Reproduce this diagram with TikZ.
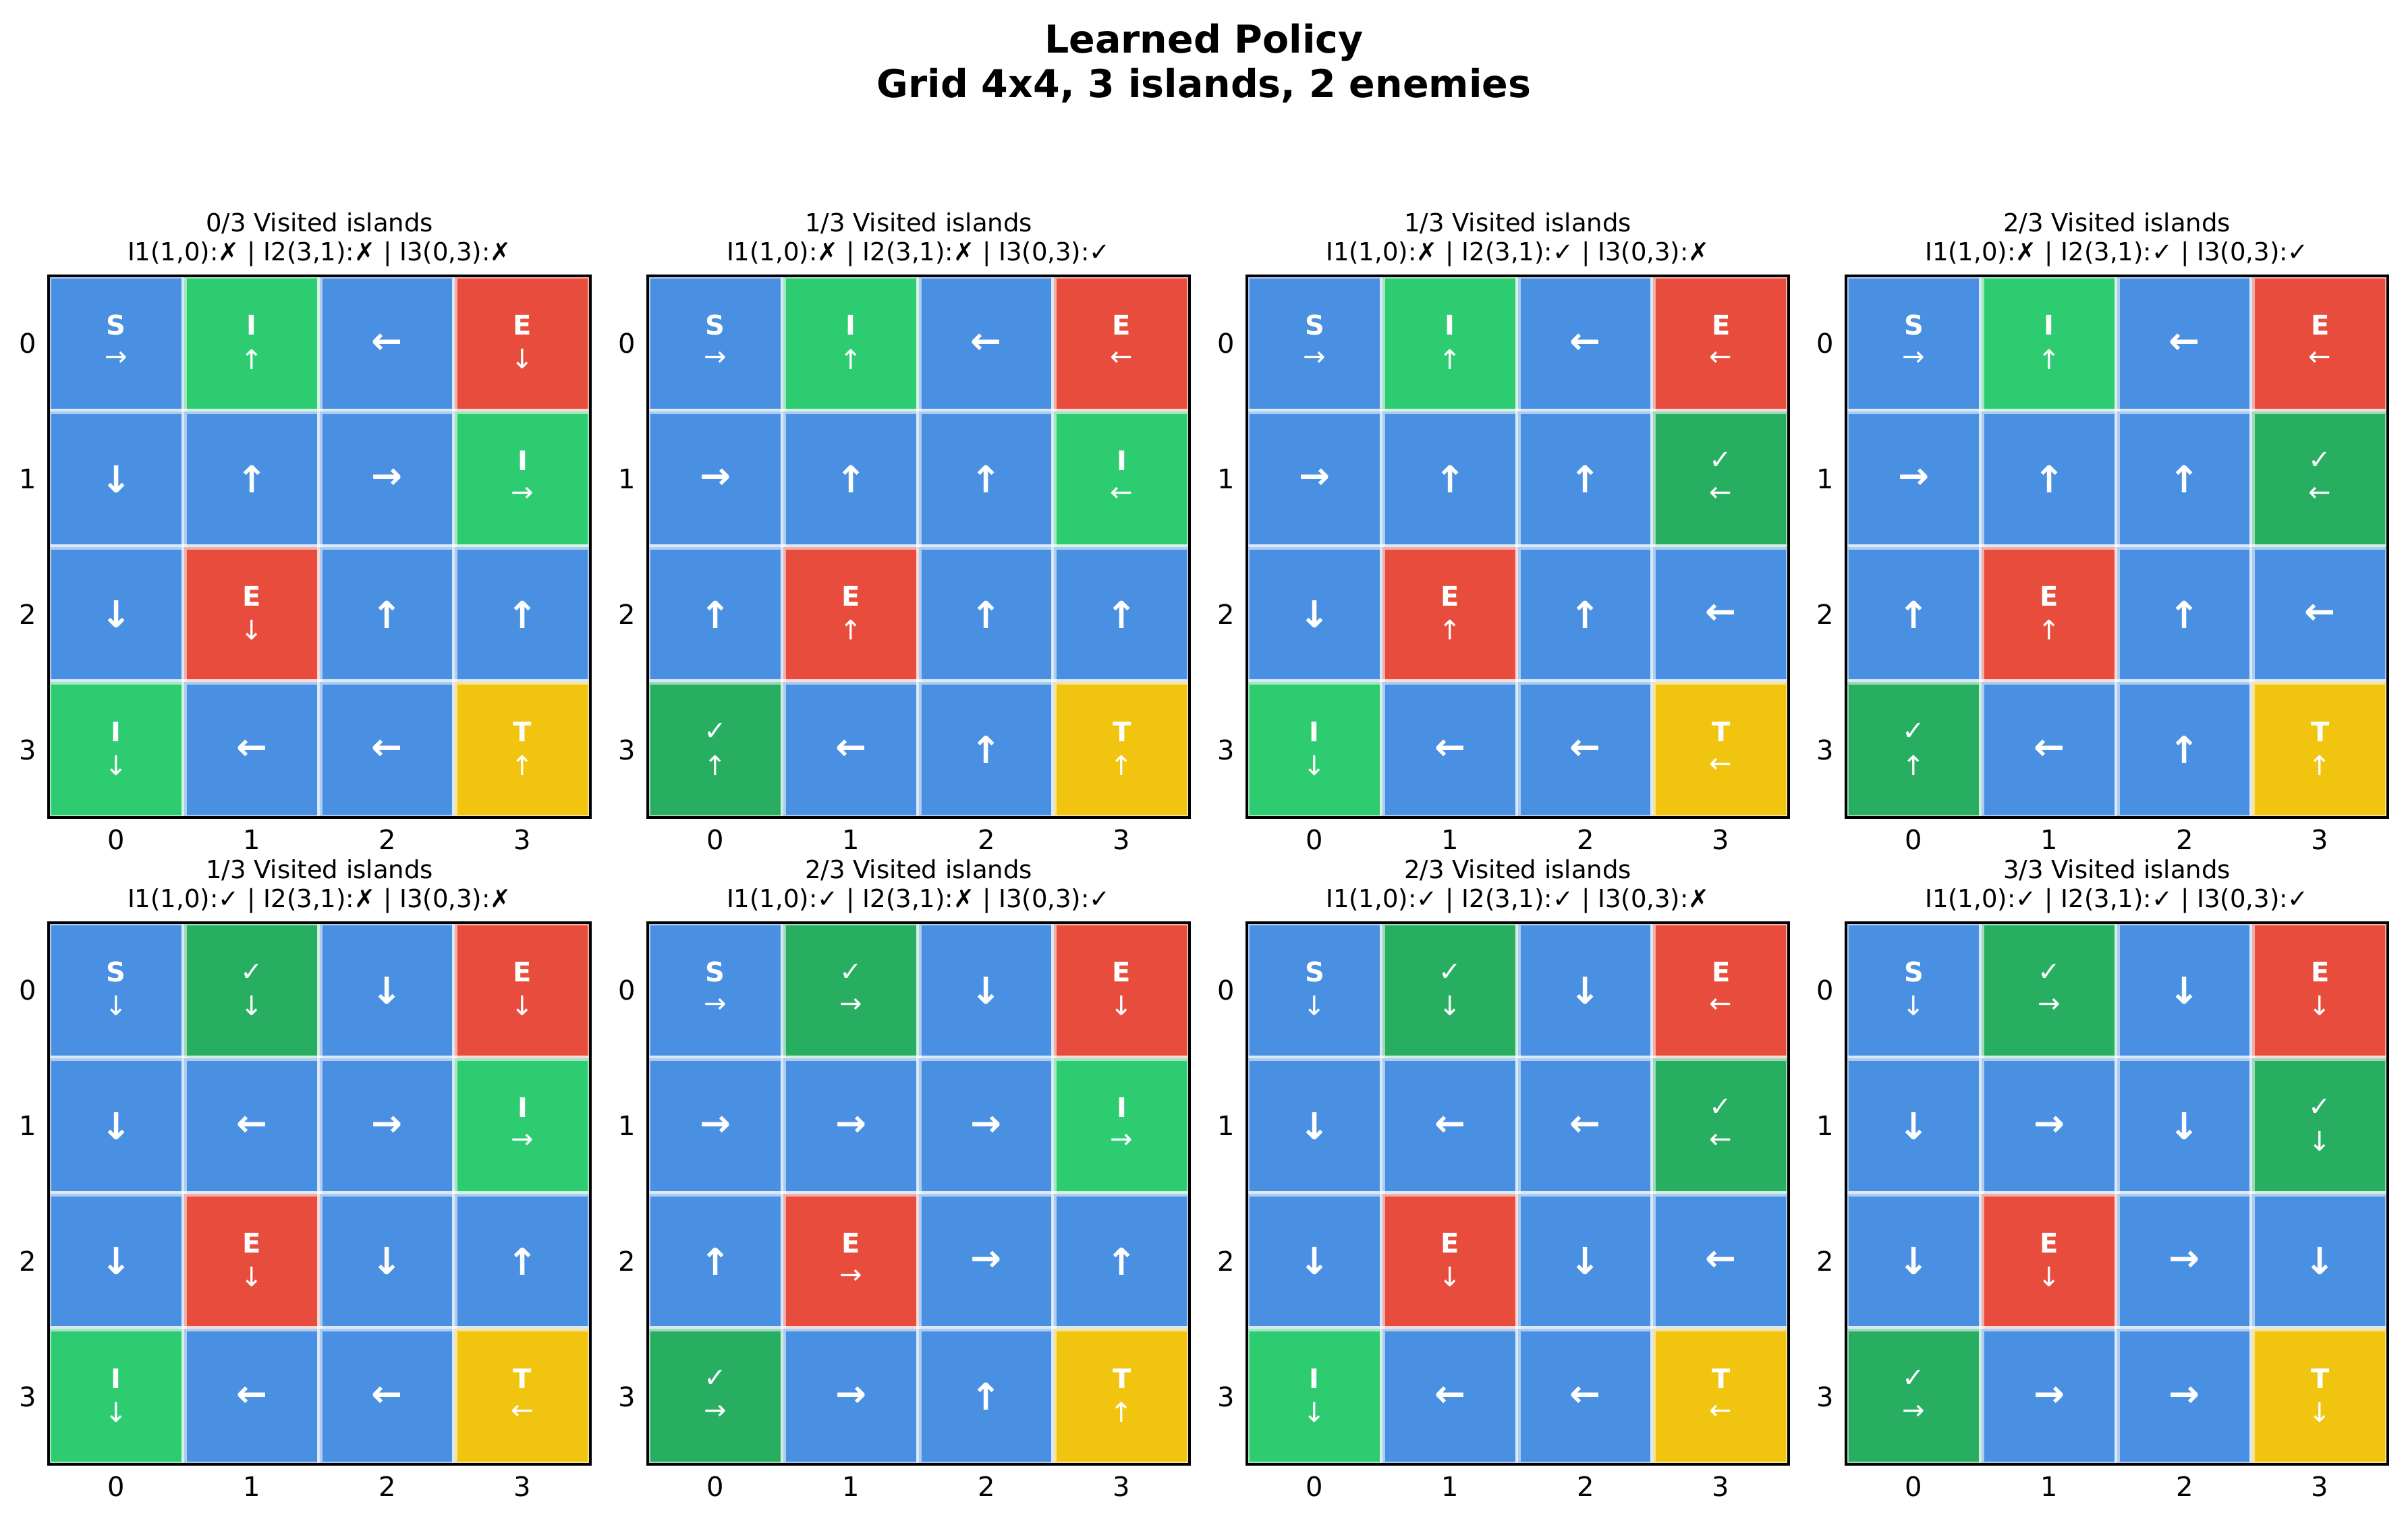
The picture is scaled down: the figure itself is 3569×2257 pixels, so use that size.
\documentclass[tikz,border=0pt]{standalone}
\usepackage{fontspec}
\setmainfont{DejaVu Sans}
\definecolor{cblue}{HTML}{4A90E2}
\definecolor{cgreen}{HTML}{2ECC71}
\definecolor{cdgreen}{HTML}{27AE60}
\definecolor{cred}{HTML}{E74C3C}
\definecolor{cyellow}{HTML}{F1C40F}
\def\ccolS{cblue}\def\clabS{\bfseries S}
\def\ccolI{cgreen}\def\clabI{\bfseries I}
\def\ccolE{cred}\def\clabE{\bfseries E}
\def\ccolT{cyellow}\def\clabT{\bfseries T}
\def\ccolV{cdgreen}\def\clabV{✓}
\def\ccolN{cblue}\def\clabN{}
\def\typeN{N}
\tikzset{
  titletxt/.style={font=\fontsize{11.4}{13.3}\selectfont\bfseries, inner sep=0pt, anchor=base},
  subtxt/.style={font=\fontsize{7.4}{8.9}\selectfont, inner sep=0pt, anchor=base},
  ticktxt/.style={font=\fontsize{8}{9.6}\selectfont, inner sep=0pt},
  bigarrow/.style={font=\fontsize{11}{13}\selectfont\bfseries, text=white, inner sep=0pt},
  smalllab/.style={font=\fontsize{8}{9.6}\selectfont, text=white, inner sep=0pt},
  smallarrow/.style={font=\fontsize{8}{9.6}\selectfont, text=white, inner sep=0pt},
  celledge/.style={draw=white, draw opacity=0.55, line width=1.6pt},
  axframe/.style={draw=black, line width=0.8pt},
}
\newcommand\drawpanel[6]{%
  \pgfmathsetmacro\pcx{#2+401.5}
  \node[subtxt] (h#1a) at (\pcx,#3-66) {#4 Visited islands};
  \node[subtxt] (h#1b) at (\pcx,#3-23) {#5};
  \foreach \ctype/\carrow [count=\k from 0] in {#6}{
    \pgfmathtruncatemacro\prow{int(\k/4)}
    \pgfmathtruncatemacro\pcol{mod(\k,4)}
    \pgfmathsetmacro\xa{#2+\pcol*200.75}
    \pgfmathsetmacro\ya{#3+\prow*200.75}
    \pgfmathsetmacro\xm{\xa+100.375}
    \pgfmathsetmacro\ym{\ya+100.375}
    \edef\cc{\csname ccol\ctype\endcsname}
    \fill[\cc] (\xa,\ya) rectangle ++(200.75,200.75);
    \draw[celledge] (\xa,\ya) rectangle ++(200.75,200.75);
    \ifx\ctype\typeN
      \node[bigarrow] (c#1-\k) at (\xm,\ym) {\carrow};
    \else
      \node[smalllab] (c#1-\k-l) at (\xm,\ym-27) {\csname clab\ctype\endcsname};
      \node[smallarrow] (c#1-\k-a) at (\xm,\ym+23) {\carrow};
    \fi
  }
  \draw[axframe] (#2,#3) rectangle ++(803,803);
  \foreach \i in {0,...,3}{
    \node[ticktxt] (xt#1-\i) at (#2+100.375+\i*200.75,#3+836) {\i};
    \node[ticktxt] (yt#1-\i) at (#2-31,#3+100.375+\i*200.75) {\i};
  }
}
\begin{document}
\begin{tikzpicture}[x=0.2pt,y=-0.2pt]
\fill[white] (0,0) rectangle (3569,2257);
\useasboundingbox (0,0) rectangle (3569,2257);
\node[titletxt] (t1) at (1784.5,78) {Learned Policy};
\node[titletxt] (t2) at (1784.5,144.5) {Grid 4x4, 3 islands, 2 enemies};
\drawpanel{1}{72}{409}{0/3}{I1(1,0):✗ | I2(3,1):✗ | I3(0,3):✗}{S/→,I/↑,N/←,E/↓,N/↓,N/↑,N/→,I/→,N/↓,E/↓,N/↑,N/↑,I/↓,N/←,N/←,T/↑}
\drawpanel{2}{960}{409}{1/3}{I1(1,0):✗ | I2(3,1):✗ | I3(0,3):✓}{S/→,I/↑,N/←,E/←,N/→,N/↑,N/↑,I/←,N/↑,E/↑,N/↑,N/↑,V/↑,N/←,N/↑,T/↑}
\drawpanel{3}{1848}{409}{1/3}{I1(1,0):✗ | I2(3,1):✓ | I3(0,3):✗}{S/→,I/↑,N/←,E/←,N/→,N/↑,N/↑,V/←,N/↓,E/↑,N/↑,N/←,I/↓,N/←,N/←,T/←}
\drawpanel{4}{2736}{409}{2/3}{I1(1,0):✗ | I2(3,1):✓ | I3(0,3):✓}{S/→,I/↑,N/←,E/←,N/→,N/↑,N/↑,V/←,N/↑,E/↑,N/↑,N/←,V/↑,N/←,N/↑,T/↑}
\drawpanel{5}{72}{1368}{1/3}{I1(1,0):✓ | I2(3,1):✗ | I3(0,3):✗}{S/↓,V/↓,N/↓,E/↓,N/↓,N/←,N/→,I/→,N/↓,E/↓,N/↓,N/↑,I/↓,N/←,N/←,T/←}
\drawpanel{6}{960}{1368}{2/3}{I1(1,0):✓ | I2(3,1):✗ | I3(0,3):✓}{S/→,V/→,N/↓,E/↓,N/→,N/→,N/→,I/→,N/↑,E/→,N/→,N/↑,V/→,N/→,N/↑,T/↑}
\drawpanel{7}{1848}{1368}{2/3}{I1(1,0):✓ | I2(3,1):✓ | I3(0,3):✗}{S/↓,V/↓,N/↓,E/←,N/↓,N/←,N/←,V/←,N/↓,E/↓,N/↓,N/←,I/↓,N/←,N/←,T/←}
\drawpanel{8}{2736}{1368}{3/3}{I1(1,0):✓ | I2(3,1):✓ | I3(0,3):✓}{S/↓,V/→,N/↓,E/↓,N/↓,N/→,N/↓,V/↓,N/↓,E/↓,N/→,N/↓,V/→,N/→,N/→,T/↓}
\end{tikzpicture}
\end{document}
